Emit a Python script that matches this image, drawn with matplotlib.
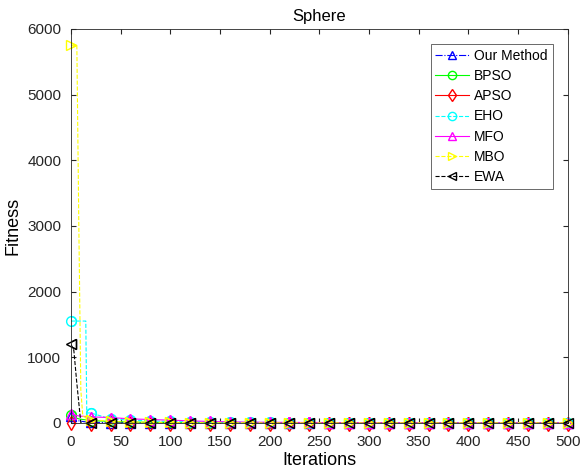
import matplotlib.pyplot as plt
import numpy as np

plt.rcParams['font.family'] = ['Liberation Sans', 'DejaVu Sans']

# iterations where the curves are sampled (markers every 20)
iters = [0, 3, 6, 8, 10, 12, 15, 16, 18, 20, 40, 60, 80, 100, 120, 140, 160, 180, 200,
         220, 240, 260, 280, 300, 320, 340, 360, 380, 400, 420, 440, 460, 480, 500]

ours = [100, 60, 40, 30, 25, 20, 15, 12, 10, 8, 4, 3, 2, 1, 1, 1, 0, 0, 0,
        0, 0, 0, 0, 0, 0, 0, 0, 0, 0, 0, 0, 0, 0, 0]
bpso = [120, 90, 70, 60, 55, 50, 45, 42, 40, 35, 20, 12, 8, 5, 3, 2, 2, 1, 1,
        1, 1, 0, 0, 0, 0, 0, 0, 0, 0, 0, 0, 0, 0, 0]
apso = [-10, -10, -12, -12, -12, -12, -12, -12, -12, -12, -12, -12, -12, -12, -12, -12, -12, -12, -12,
        -12, -12, -12, -12, -12, -12, -12, -12, -12, -12, -12, -12, -12, -12, -12]
eho = [1550, 1550, 1550, 1550, 1550, 1550, 1550, 150, 150, 150, 60, 40, 30, 20, 15, 10, 8, 6, 5,
       4, 3, 3, 2, 2, 2, 1, 1, 1, 1, 1, 1, 1, 1, 1]
mfo = [140, 120, 110, 105, 100, 100, 95, 95, 90, 90, 80, 60, 50, 40, 30, 20, 15, 10, 8,
       6, 5, 4, 3, 3, 2, 2, 2, 1, 1, 1, 1, 1, 1, 1]
mbo = [5750, 5750, 5750, 3000, 500, 100, 80, 70, 60, 50, 20, 10, 8, 5, 3, 2, 1, 1, 0,
       0, 0, 0, 0, 0, 0, 0, 0, 0, 0, 0, 0, 0, 0, 0]
ewa = [1200, 1100, 600, 300, 0, -10, -10, -10, -10, -10, -10, -10, -10, -10, -10, -10, -10, -10, -10,
       -10, -10, -10, -10, -10, -10, -10, -10, -10, -10, -10, -10, -10, -10, -10]

names = ["Our Method", "BPSO", "APSO", "EHO", "MFO", "MBO", "EWA"]

x = np.array(iters)
marks = [i for i, v in enumerate(iters) if v % 20 == 0]

fig = plt.figure(figsize=(5.81, 4.74), dpi=100)
ax = fig.add_axes([0.122, 0.108, 0.855, 0.831])

series = [
    (ours, '#0000ff', '-.', '^'),
    (bpso, '#00ff00', '-', 'o'),
    (apso, '#ff0000', '-', 'd'),
    (eho, '#00ffff', '--', 'o'),
    (mfo, '#ff00ff', '-', '^'),
    (mbo, '#ffff00', '--', '>'),
    (ewa, '#000000', '--', '<'),
]
for (vals, c, ls, mk), nm in zip(series, names):
    ax.plot(x, vals, color=c, linestyle=ls, linewidth=0.8, label=nm,
            marker=mk, markevery=marks, markerfacecolor='none', markersize=7)
    # markers sit on the spines like in MATLAB, so draw an unclipped copy of them
    ax.plot(x[marks], np.array(vals)[marks], linestyle='none', marker=mk, color=c,
            markerfacecolor='none', markersize=7, clip_on=False)

ax.set_xlim(0, 500)
ax.set_ylim(0, 6000)
ax.set_xticks(np.arange(0, 501, 50))
ax.set_yticks(np.arange(0, 6001, 1000))
ax.tick_params(direction='in', top=True, right=True, labelsize=11, colors='#262626')
ax.tick_params(axis='x', pad=9)
ax.tick_params(axis='y', pad=7)
for s in ax.spines.values():
    s.set_color('#262626')
    s.set_linewidth(0.6)

ax.set_title("Sphere", fontsize=12)
ax.set_xlabel("Iterations", fontsize=13, labelpad=2)
ax.set_ylabel("Fitness", fontsize=13)

leg = ax.legend(loc='upper right', bbox_to_anchor=(0.97, 0.962), fontsize=10,
                fancybox=False, edgecolor='#262626', handlelength=2.4,
                borderpad=0.35, labelspacing=0.45, handletextpad=0.4,
                borderaxespad=0, markerscale=0.85)
leg.get_frame().set_linewidth(0.6)

fig.savefig("out.png", dpi=100)
